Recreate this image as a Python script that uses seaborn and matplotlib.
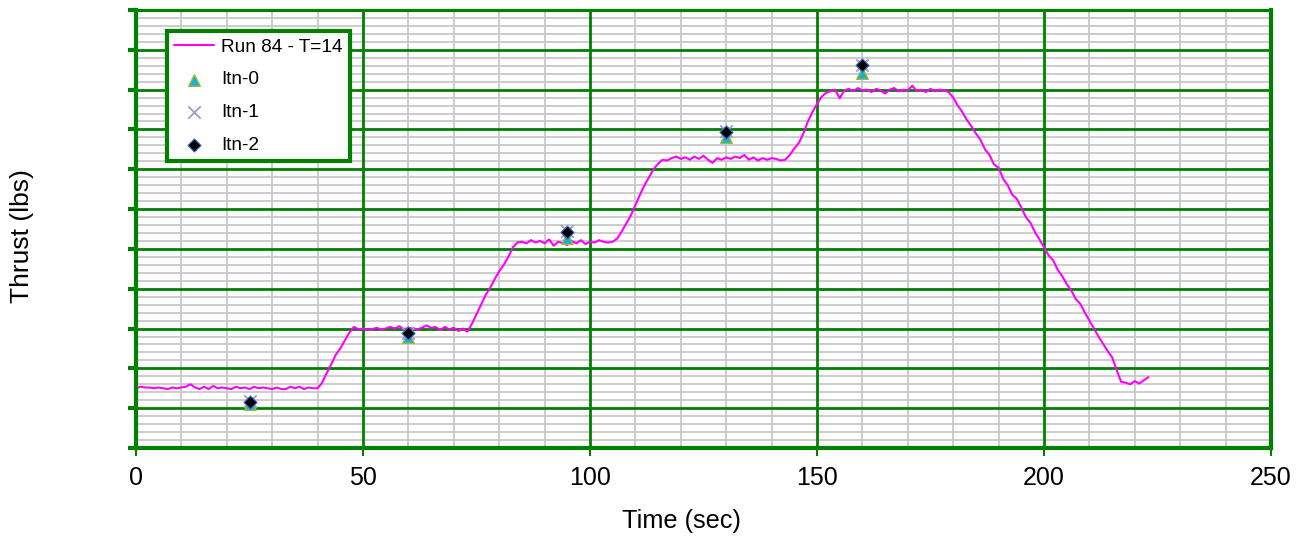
import matplotlib
matplotlib.use("Agg")
import matplotlib.pyplot as plt
import seaborn as sns
import pandas as pd
from matplotlib.ticker import MultipleLocator

# ---------------- data ----------------
time_sec = list(range(0, 224))
thrust_lbs = [
    75, 77, 76, 76, 75, 76, 75, 74, 76, 75,
    76, 77, 80, 76, 74, 77, 74, 78, 75, 76,
    75, 74, 77, 75, 76, 74, 77, 75, 76, 75,
    74, 76, 74, 74, 77, 75, 77, 74, 76, 75,
    75, 82, 94, 105, 117, 125, 135, 145, 152, 149,
    150, 148, 149, 151, 149, 150, 152, 150, 153, 149,
    151, 150, 149, 151, 154, 151, 152, 148, 152, 149,
    151, 147, 150, 146, 156, 168, 180, 192, 201, 212,
    222, 230, 240, 252, 258, 259, 257, 261, 258, 260,
    257, 262, 254, 259, 257, 255, 260, 257, 261, 256,
    259, 258, 261, 259, 258, 259, 263, 272, 282, 292,
    305, 318, 330, 340, 350, 357, 362, 361, 364, 366,
    363, 365, 362, 366, 363, 367, 362, 358, 364, 362,
    365, 363, 366, 364, 368, 362, 365, 361, 364, 362,
    364, 363, 361, 362, 368, 376, 383, 395, 410, 422,
    432, 441, 446, 448, 450, 439, 449, 451, 448, 452,
    449, 450, 447, 451, 449, 445, 450, 452, 448, 450,
    449, 455, 448, 450, 447, 451, 448, 450, 449, 447,
    440, 430, 422, 412, 404, 395, 387, 375, 368, 356,
    352, 338, 330, 318, 313, 302, 290, 283, 271, 262,
    252, 242, 236, 224, 216, 206, 198, 187, 181, 170,
    160, 150, 140, 131, 122, 114, 98, 83, 82, 80,
    84, 81, 85, 89,
]

itn_time = [25, 60, 95, 130, 160]
itn0 = [55, 140, 264, 390, 471]
itn1 = [58.5, 145, 272.5, 397.5, 481]
itn2 = [58, 144.5, 271.5, 397, 481]

x_ticks = [0, 50, 100, 150, 200, 250]
y_major = [0, 50, 100, 150, 200, 250, 300, 350, 400, 450, 500, 550]

line_label = "Run 84 - T=14"
itn_labels = ["Itn-0", "Itn-1", "Itn-2"]

# ---------------- style ----------------
sns.set_style("white")
plt.rcParams['font.family'] = ['Liberation Sans', 'DejaVu Sans']
plt.rcParams['text.color'] = 'black'
plt.rcParams['xtick.color'] = 'black'
plt.rcParams['ytick.color'] = 'black'

GREEN = '#008000'

fig = plt.figure(figsize=(13.05, 5.4), dpi=100)
ax = fig.add_axes([136 / 1305, 1 - 448 / 540, 1135 / 1305, 438 / 540])

df_line = pd.DataFrame({"time": time_sec, "thrust": thrust_lbs})
df_itn = pd.DataFrame({"time": itn_time, "itn0": itn0, "itn1": itn1, "itn2": itn2})

# major green grid drawn above the minor grey grid
for xv in x_ticks:
    ax.axvline(xv, color=GREEN, linewidth=2.0, zorder=1)
for yv in y_major:
    ax.axhline(yv, color=GREEN, linewidth=2.0, zorder=1)

sns.lineplot(data=df_line, x="time", y="thrust", color="#FF00FF", linewidth=1.5,
             estimator=None, sort=False, label=line_label, ax=ax, zorder=3)
sns.scatterplot(data=df_itn, x="time", y="itn0", marker="^", s=70, color="#1AAEDC",
                edgecolor="#9DBB2E", linewidth=1.0, label=itn_labels[0], ax=ax, zorder=4)
sns.scatterplot(data=df_itn, x="time", y="itn1", marker="x", s=80, color="#9C9CD0",
                linewidth=1.3, label=itn_labels[1], ax=ax, zorder=5)
sns.scatterplot(data=df_itn, x="time", y="itn2", marker="D", s=45, color="black",
                edgecolor="#3A6FD0", linewidth=0.8, label=itn_labels[2], ax=ax, zorder=6)

ax.set_xlim(0, 250)
ax.set_ylim(0, 550)
ax.set_xticks(x_ticks)
ax.set_xticklabels([str(v) for v in x_ticks])
ax.set_yticks(y_major)
ax.xaxis.set_minor_locator(MultipleLocator(10))
ax.yaxis.set_minor_locator(MultipleLocator(10))

ax.grid(which='minor', color='#c8c8c8', linewidth=1.3)
ax.grid(which='major', visible=False)
ax.set_axisbelow(True)

ax.tick_params(axis='y', which='major', left=True, length=6, width=3, color=GREEN,
               labelleft=False, direction='out')
ax.tick_params(axis='x', which='major', bottom=True, length=6, width=1.5, color=GREEN,
               labelsize=18, pad=7, direction='out', labelcolor='black')
ax.tick_params(which='minor', length=0)

for side in ['left', 'bottom', 'right']:
    ax.spines[side].set_color(GREEN)
    ax.spines[side].set_linewidth(3)
    ax.spines[side].set_zorder(7)
ax.spines['top'].set_color(GREEN)
ax.spines['top'].set_linewidth(2.3)

ax.set_xlabel('')
ax.set_ylabel('')
fig.text(681 / 1305, 1 - 521 / 540, "Time (sec)", ha='center', va='center',
         fontsize=18.2, color='black')
fig.text(22 / 1305, 1 - 236 / 540, "Thrust (lbs)", ha='center', va='center',
         rotation=90, fontsize=19, color='black')

handles, labels = ax.get_legend_handles_labels()
leg = ax.legend(handles, labels, loc='upper left', bbox_to_anchor=(0.027, 0.952),
                borderaxespad=0, fontsize=13.7, frameon=True, fancybox=False,
                framealpha=1, edgecolor=GREEN, handlelength=2.1, handletextpad=0.35,
                labelspacing=0.8, borderpad=0.4)
leg.get_frame().set_linewidth(3)
leg.set_zorder(10)
for t in leg.get_texts():
    t.set_color('black')

fig.savefig("out.png", dpi=100)
